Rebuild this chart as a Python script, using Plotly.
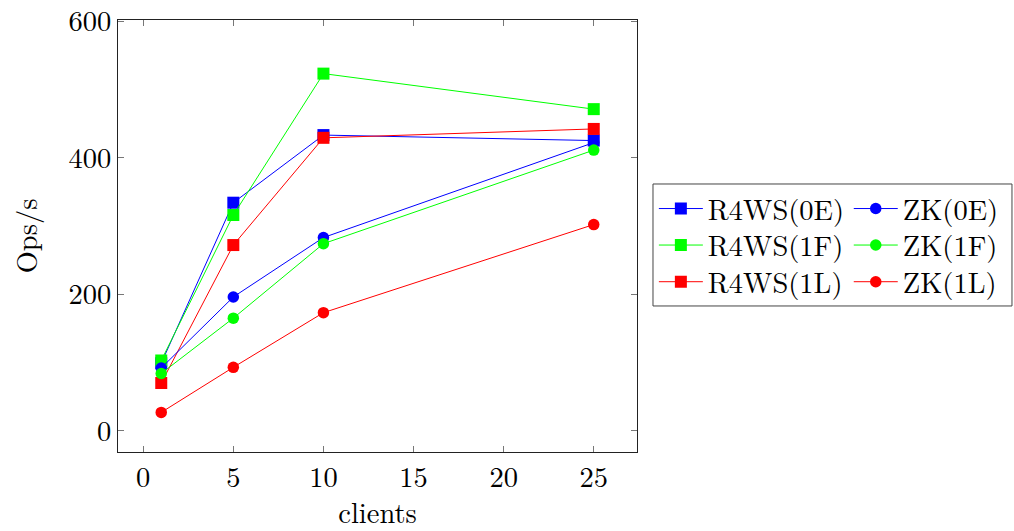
import plotly.graph_objects as go

clients = [1, 5, 10, 25]

r4ws_0e = [99, 334, 433, 425]
r4ws_1f = [103, 316, 523, 471]
r4ws_1l = [70, 272, 429, 442]
zk_0e = [92, 196, 283, 422]
zk_1f = [84, 165, 274, 411]
zk_1l = [27, 93, 173, 302]

names = ["R4WS(0E)", "R4WS(1F)", "R4WS(1L)", "ZK(0E)", "ZK(1F)", "ZK(1L)"]
values = [r4ws_0e, r4ws_1f, r4ws_1l, zk_0e, zk_1f, zk_1l]
colors = ["#0000ff", "#00ff00", "#ff0000", "#0000ff", "#00ff00", "#ff0000"]
symbols = ["square", "square", "square", "circle", "circle", "circle"]

x_ticks = [0, 5, 10, 15, 20, 25]
y_ticks = [0, 200, 400, 600]

FONT = "Latin Modern Roman"
FS = 28.5

# legend entry positions (paper coords): two columns, three rows
leg_x = [1.0325, 1.0325, 1.0325, 1.408, 1.408, 1.408]
leg_y = [0.6215, 0.537, 0.4521, 0.6215, 0.537, 0.4521]

fig = go.Figure()
layout_legends = {}
for i, (name, vals, color, sym) in enumerate(zip(names, values, colors, symbols)):
    lg = "legend" if i == 0 else f"legend{i + 1}"
    fig.add_trace(go.Scatter(
        x=clients, y=vals, name=name, mode="lines+markers", legend=lg,
        line=dict(color=color, width=1),
        marker=dict(symbol=sym, size=12 if sym == "square" else 11.5, color=color,
                    line=dict(width=0)),
    ))
    layout_legends[lg] = dict(
        x=leg_x[i], y=leg_y[i], xanchor="left", yanchor="top", orientation="v",
        borderwidth=0, bgcolor="rgba(0,0,0,0)", itemwidth=44,
        font=dict(family=FONT, size=FS, color="black"), itemsizing="trace",
    )

axis_common = dict(
    showgrid=False, zeroline=False, showline=True, linecolor="#222", linewidth=1,
    mirror="ticks", ticks="inside", ticklen=6, tickcolor="#777", tickwidth=1,
    tickfont=dict(family=FONT, size=FS, color="black"), automargin=False,
    ticklabeloverflow="allow",
)

fig.update_layout(
    width=1014, height=531,
    margin=dict(l=118, r=377, t=20, b=79, autoexpand=False),
    plot_bgcolor="white", paper_bgcolor="white",
    font=dict(family=FONT, size=FS, color="black"),
    xaxis=dict(range=[-1.4, 27.4], tickvals=x_ticks,
               title=dict(text="clients", font=dict(family=FONT, size=FS), standoff=6),
               **axis_common),
    yaxis=dict(range=[-31, 601.5], tickvals=y_ticks,
               title=dict(text="Ops/s", font=dict(family=FONT, size=FS), standoff=22),
               **axis_common),
    showlegend=True,
    **layout_legends,
)

fig.add_shape(type="rect", xref="paper", yref="paper",
              x0=1.0308, x1=1.7225, y0=0.338, y1=0.6204,
              line=dict(color="#444", width=1), fillcolor="rgba(0,0,0,0)", layer="above")

fig.write_html("out.html")
